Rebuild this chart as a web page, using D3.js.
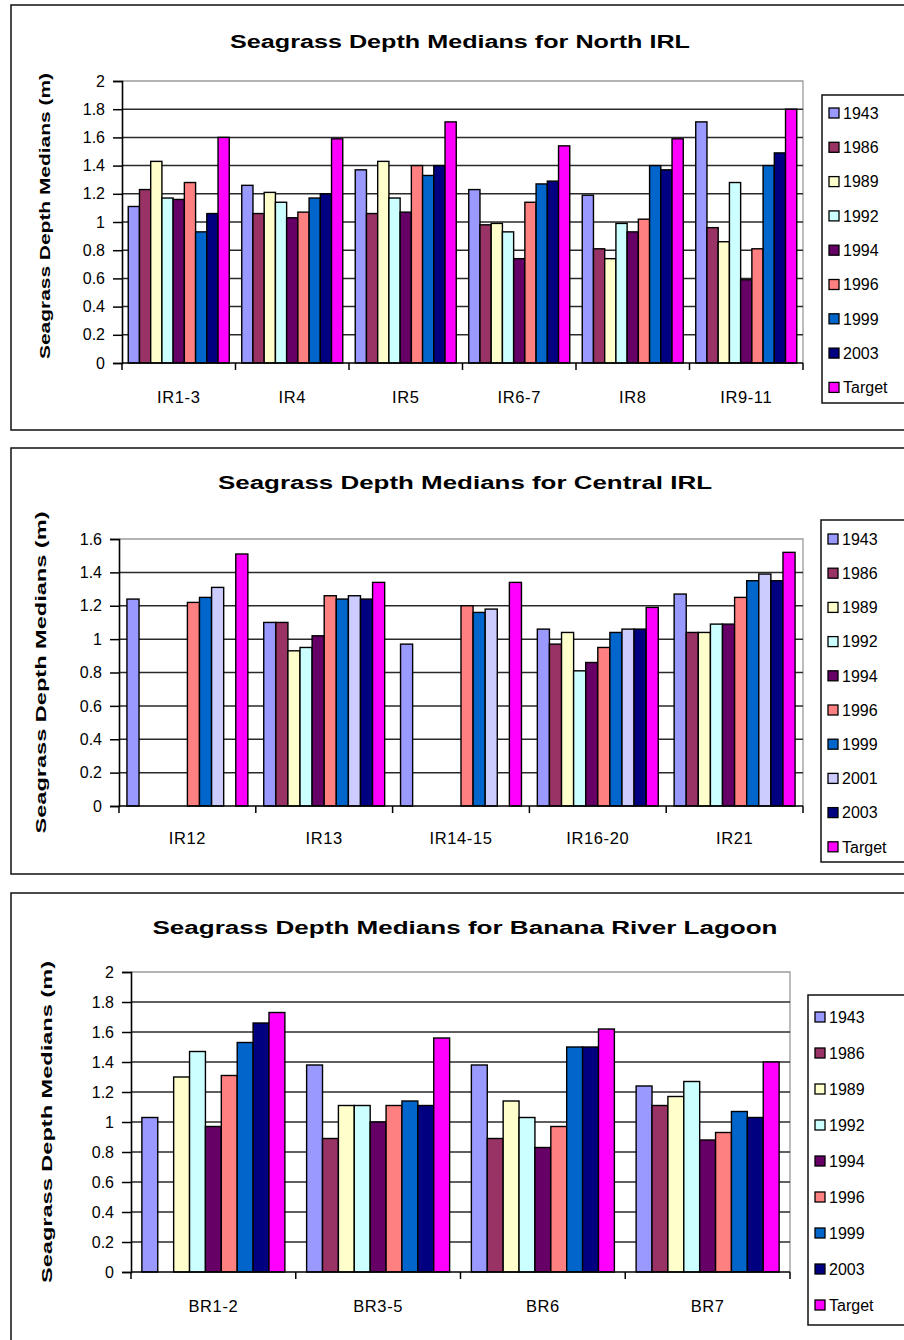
<!DOCTYPE html>
<html>
<head>
<meta charset="utf-8">
<script src="https://cdn.jsdelivr.net/npm/d3@7"></script>
<style>
  html, body { margin: 0; padding: 0; background: #fff; }
  svg { display: block; }
  text { font-family: "Liberation Sans", Arial, sans-serif; fill: #000; }
</style>
</head>
<body>
<svg id="chart" width="904" height="1340"></svg>
<script>
// ---------- DATA ----------
const northCategories = ["IR1-3", "IR4", "IR5", "IR6-7", "IR8", "IR9-11"];
const northSeries = ["1943", "1986", "1989", "1992", "1994", "1996", "1999", "2003", "Target"];
const northValues = [
  [1.11, 1.26, 1.37, 1.23, 1.19, 1.71],
  [1.23, 1.06, 1.06, 0.98, 0.81, 0.96],
  [1.43, 1.21, 1.43, 0.99, 0.74, 0.86],
  [1.17, 1.14, 1.17, 0.93, 0.99, 1.28],
  [1.16, 1.03, 1.07, 0.74, 0.93, 0.59],
  [1.28, 1.07, 1.40, 1.14, 1.02, 0.81],
  [0.93, 1.17, 1.33, 1.27, 1.40, 1.40],
  [1.06, 1.20, 1.40, 1.29, 1.37, 1.49],
  [1.60, 1.59, 1.71, 1.54, 1.59, 1.80]
];
const northTicks = [0, 0.2, 0.4, 0.6, 0.8, 1, 1.2, 1.4, 1.6, 1.8, 2];

const centralCategories = ["IR12", "IR13", "IR14-15", "IR16-20", "IR21"];
const centralSeries = ["1943", "1986", "1989", "1992", "1994", "1996", "1999", "2001", "2003", "Target"];
const centralValues = [
  [1.24, 1.10, 0.97, 1.06, 1.27],
  [null, 1.10, null, 0.97, 1.04],
  [null, 0.93, null, 1.04, 1.04],
  [null, 0.95, null, 0.81, 1.09],
  [null, 1.02, null, 0.86, 1.09],
  [1.22, 1.26, 1.20, 0.95, 1.25],
  [1.25, 1.24, 1.16, 1.04, 1.35],
  [1.31, 1.26, 1.18, 1.06, 1.39],
  [null, 1.24, null, 1.06, 1.35],
  [1.51, 1.34, 1.34, 1.19, 1.52]
];
const centralTicks = [0, 0.2, 0.4, 0.6, 0.8, 1, 1.2, 1.4, 1.6];

const bananaCategories = ["BR1-2", "BR3-5", "BR6", "BR7"];
const bananaSeries = ["1943", "1986", "1989", "1992", "1994", "1996", "1999", "2003", "Target"];
const bananaValues = [
  [1.03, 1.38, 1.38, 1.24],
  [null, 0.89, 0.89, 1.11],
  [1.30, 1.11, 1.14, 1.17],
  [1.47, 1.11, 1.03, 1.27],
  [0.97, 1.00, 0.83, 0.88],
  [1.31, 1.11, 0.97, 0.93],
  [1.53, 1.14, 1.50, 1.07],
  [1.66, 1.11, 1.50, 1.03],
  [1.73, 1.56, 1.62, 1.40]
];
const bananaTicks = [0, 0.2, 0.4, 0.6, 0.8, 1, 1.2, 1.4, 1.6, 1.8, 2];

const seriesColors = {
  "1943": "#9999FF", "1986": "#993366", "1989": "#FFFFCC", "1992": "#CCFFFF",
  "1994": "#660066", "1996": "#FF8080", "1999": "#0066CC", "2001": "#CCCCFF",
  "2003": "#000080", "Target": "#FF00FF"
};

// ---------- DRAW ----------
const svg = d3.select("#chart");

function drawChart(cfg) {
  const g = svg.append("g");
  g.append("rect")
    .attr("x", cfg.frame[0]).attr("y", cfg.frame[1])
    .attr("width", cfg.frame[2]).attr("height", cfg.frame[3])
    .attr("fill", "none").attr("stroke", "#111").attr("stroke-width", 1.5);

  g.append("text")
    .attr("x", cfg.titleX).attr("y", cfg.titleY)
    .attr("text-anchor", "middle")
    .attr("font-weight", "bold").attr("font-size", 18)
    .attr("textLength", cfg.titleLen).attr("lengthAdjust", "spacingAndGlyphs")
    .text(cfg.title);

  const p = cfg.plot;
  const y = d3.scaleLinear().domain([0, cfg.yMax]).range([p.b, p.t]);
  const x0 = d3.scaleBand().domain(cfg.categories).range([p.l, p.r]).padding(0);
  const pad = x0.bandwidth() * cfg.padFrac;
  const x1 = d3.scaleBand().domain(cfg.series).range([pad, x0.bandwidth() - pad]).padding(0);

  g.append("path")
    .attr("d", `M${p.l},${p.t}H${p.r}V${p.b}`)
    .attr("fill", "none").attr("stroke", "#9a9a9a").attr("stroke-width", 1.3);

  g.append("g").selectAll("line")
    .data(cfg.ticks.filter(t => t > 0 && t < cfg.yMax))
    .join("line")
    .attr("x1", p.l).attr("x2", p.r)
    .attr("y1", d => y(d)).attr("y2", d => y(d))
    .attr("stroke", "#2a2a2a").attr("stroke-width", 1.5);

  const barData = [];
  cfg.series.forEach((s, si) => {
    cfg.categories.forEach((c, ci) => {
      const v = cfg.values[si][ci];
      if (v != null) barData.push({ s, c, v });
    });
  });
  g.append("g").selectAll("rect")
    .data(barData)
    .join("rect")
    .attr("x", d => x0(d.c) + x1(d.s))
    .attr("y", d => y(d.v))
    .attr("width", x1.bandwidth())
    .attr("height", d => y(0) - y(d.v))
    .attr("fill", d => seriesColors[d.s])
    .attr("stroke", "#000").attr("stroke-width", 1.4);

  const yAxis = d3.axisLeft(y).tickValues(cfg.ticks).tickSize(9).tickPadding(8)
    .tickFormat(d => d3.format("")(+d.toFixed(1)));
  const ya = g.append("g").attr("transform", `translate(${p.l},0)`).call(yAxis);
  ya.select(".domain").attr("stroke", "#000").attr("stroke-width", 1.6);
  ya.selectAll(".tick line").attr("stroke", "#000").attr("stroke-width", 1.5);
  ya.selectAll(".tick text").attr("font-size", 16).attr("fill", "#111")
    .attr("font-family", "'Liberation Sans', Arial, sans-serif");

  const xa = g.append("g").attr("transform", `translate(0,${p.b})`);
  xa.append("line").attr("x1", p.l).attr("x2", p.r).attr("y1", 0).attr("y2", 0)
    .attr("stroke", "#000").attr("stroke-width", 1.6);
  const bounds = cfg.categories.map(c => x0(c)).concat([p.r]);
  xa.selectAll("line.tk").data(bounds).join("line").attr("class", "tk")
    .attr("x1", d => d).attr("x2", d => d).attr("y1", 0).attr("y2", 7)
    .attr("stroke", "#000").attr("stroke-width", 1.5);
  xa.selectAll("text").data(cfg.categories).join("text")
    .attr("x", d => x0(d) + x0.bandwidth() / 2)
    .attr("y", cfg.catLabelDy)
    .attr("text-anchor", "middle").attr("font-size", 16.5)
    .attr("letter-spacing", 0.6)
    .text(d => d);

  g.append("text")
    .attr("transform", `translate(${cfg.yTitleX},${(p.t + p.b) / 2 + cfg.yTitleShift}) rotate(-90)`)
    .attr("text-anchor", "middle")
    .attr("font-weight", "bold").attr("font-size", 15)
    .attr("textLength", cfg.yTitleLen).attr("lengthAdjust", "spacingAndGlyphs")
    .text("Seagrass Depth Medians (m)");

  const L = cfg.legend;
  g.append("rect")
    .attr("x", L.x).attr("y", L.y).attr("width", L.w).attr("height", L.h)
    .attr("fill", "#fff").attr("stroke", "#111").attr("stroke-width", 1.5);
  const items = g.append("g").selectAll("g").data(cfg.series).join("g")
    .attr("transform", (d, i) => `translate(${L.x + 7},${L.first + i * L.step})`);
  items.append("rect")
    .attr("x", 0).attr("y", -5).attr("width", 10).attr("height", 10)
    .attr("fill", d => seriesColors[d]).attr("stroke", "#000").attr("stroke-width", 1.3);
  items.append("text")
    .attr("x", 14).attr("y", 0).attr("dy", "0.36em")
    .attr("font-size", 16).attr("fill", "#111")
    .text(d => d);
}

drawChart({
  title: "Seagrass Depth Medians for North IRL",
  titleX: 460, titleY: 48, titleLen: 460,
  frame: [11, 5, 910, 425],
  plot: { l: 122, t: 81, r: 803, b: 363 },
  yMax: 2, ticks: northTicks,
  categories: northCategories, series: northSeries, values: northValues,
  padFrac: 0.055, catLabelDy: 40,
  yTitleX: 50, yTitleShift: -6, yTitleLen: 286,
  legend: { x: 822, y: 95, w: 100, h: 308, first: 113, step: 34.3 }
});

drawChart({
  title: "Seagrass Depth Medians for Central IRL",
  titleX: 465, titleY: 489, titleLen: 494,
  frame: [11, 448, 910, 426],
  plot: { l: 119, t: 539, r: 803, b: 806 },
  yMax: 1.6, ticks: centralTicks,
  categories: centralCategories, series: centralSeries, values: centralValues,
  padFrac: 0.058, catLabelDy: 38,
  yTitleX: 46, yTitleShift: 0, yTitleLen: 322,
  legend: { x: 821, y: 520, w: 100, h: 342, first: 539, step: 34.2 }
});

drawChart({
  title: "Seagrass Depth Medians for Banana River Lagoon",
  titleX: 465, titleY: 934, titleLen: 625,
  frame: [11, 893, 910, 460],
  plot: { l: 131, t: 972, r: 790, b: 1272 },
  yMax: 2, ticks: bananaTicks,
  categories: bananaCategories, series: bananaSeries, values: bananaValues,
  padFrac: 0.066, catLabelDy: 40,
  yTitleX: 52, yTitleShift: 0, yTitleLen: 322,
  legend: { x: 808, y: 995, w: 110, h: 330, first: 1017, step: 36 }
});
</script>
</body>
</html>
